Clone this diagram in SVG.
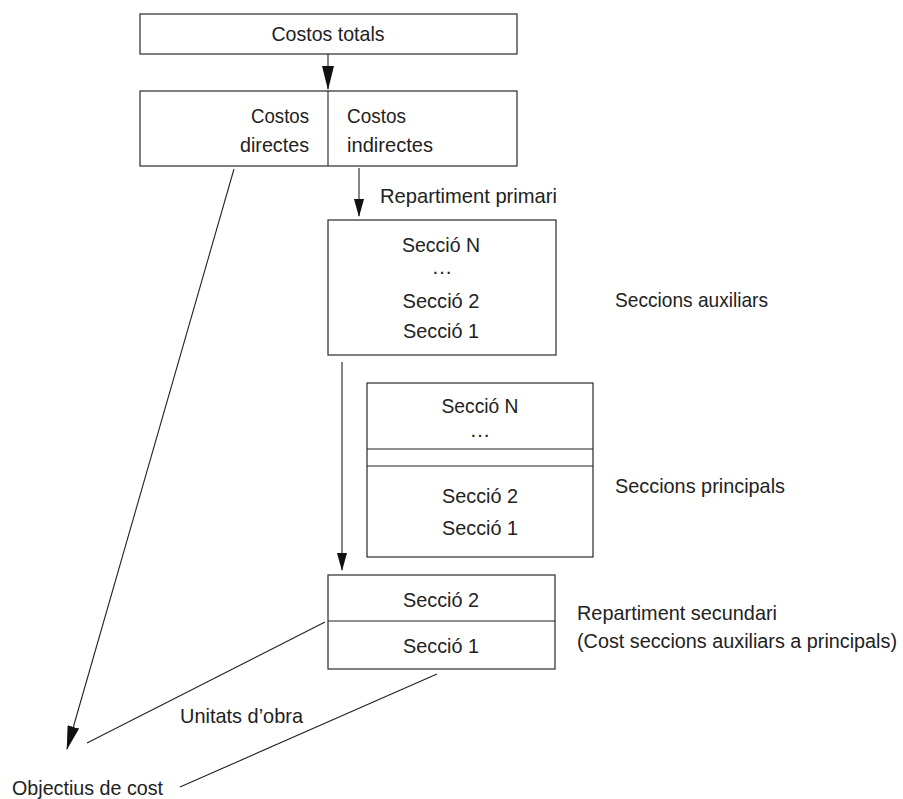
<svg xmlns="http://www.w3.org/2000/svg" width="903" height="799" viewBox="0 0 903 799">
<style>
.box{fill:#fff;stroke:#3a3a3a;stroke-width:1.3}
.ln{stroke:#222;stroke-width:1.1;fill:none}
text{font-family:"Liberation Sans",Arial,sans-serif;font-size:21px;fill:#222}
.c{text-anchor:middle}
.r{text-anchor:end}
</style>
<defs>
<marker id="ah" markerUnits="userSpaceOnUse" markerWidth="24" markerHeight="12" refX="23" refY="6" orient="auto">
<path d="M0,0 L24,6 L0,12 z" fill="#111"/>
</marker>
<marker id="ahs" markerUnits="userSpaceOnUse" markerWidth="18" markerHeight="10" refX="17" refY="5" orient="auto">
<path d="M0,0 L18,5 L0,10 z" fill="#111"/>
</marker>
</defs>
<rect width="903" height="799" fill="#fff"/>
<g id="costos-totals">
<rect class="box" x="140" y="14" width="377" height="40"/>
<text class="c" x="328" y="41" textLength="113" lengthAdjust="spacingAndGlyphs">Costos totals</text>
</g>
<g id="costos-dir-ind">
<rect class="box" x="140" y="91" width="377" height="75"/>
<line class="ln" x1="328" y1="91" x2="328" y2="166"/>
<text class="r" x="309" y="123" textLength="58" lengthAdjust="spacingAndGlyphs">Costos</text>
<text class="r" x="309" y="152" textLength="69" lengthAdjust="spacingAndGlyphs">directes</text>
<text x="347" y="123" textLength="59" lengthAdjust="spacingAndGlyphs">Costos</text>
<text x="347" y="152" textLength="86" lengthAdjust="spacingAndGlyphs">indirectes</text>
</g>
<g id="seccions-auxiliars">
<rect class="box" x="328" y="220" width="228" height="135"/>
<text class="c" x="441" y="252" textLength="78" lengthAdjust="spacingAndGlyphs">Secció N</text>
<text class="c" x="442" y="274">…</text>
<text class="c" x="441" y="308" textLength="77" lengthAdjust="spacingAndGlyphs">Secció 2</text>
<text class="c" x="441" y="338" textLength="76" lengthAdjust="spacingAndGlyphs">Secció 1</text>
</g>
<text x="615" y="307" textLength="153" lengthAdjust="spacingAndGlyphs">Seccions auxiliars</text>
<g id="seccions-principals">
<rect class="box" x="367" y="383" width="226" height="174"/>
<line class="ln" x1="367" y1="449" x2="593" y2="449"/>
<line class="ln" x1="367" y1="466" x2="593" y2="466"/>
<text class="c" x="480" y="413" textLength="77" lengthAdjust="spacingAndGlyphs">Secció N</text>
<text class="c" x="480" y="437">…</text>
<text class="c" x="480" y="503" textLength="76" lengthAdjust="spacingAndGlyphs">Secció 2</text>
<text class="c" x="480" y="535" textLength="76" lengthAdjust="spacingAndGlyphs">Secció 1</text>
</g>
<text x="615" y="493" textLength="170" lengthAdjust="spacingAndGlyphs">Seccions principals</text>
<g id="repartiment-secundari">
<rect class="box" x="328" y="575" width="227" height="94"/>
<line class="ln" x1="328" y1="621" x2="555" y2="621"/>
<text class="c" x="441" y="607" textLength="76" lengthAdjust="spacingAndGlyphs">Secció 2</text>
<text class="c" x="441" y="653" textLength="76" lengthAdjust="spacingAndGlyphs">Secció 1</text>
</g>
<text x="577" y="620" textLength="200" lengthAdjust="spacingAndGlyphs">Repartiment secundari</text>
<text x="577" y="648" style="font-size:19.5px" textLength="320" lengthAdjust="spacingAndGlyphs">(Cost seccions auxiliars a principals)</text>
<g id="objectius">
<text x="12" y="795" textLength="151" lengthAdjust="spacingAndGlyphs">Objectius de cost</text>
</g>
<g id="connectors">
<line class="ln" x1="328" y1="54" x2="328" y2="89" marker-end="url(#ah)"/>
<line class="ln" x1="359" y1="168" x2="359" y2="216" marker-end="url(#ahs)"/>
<text x="380" y="203" textLength="177" lengthAdjust="spacingAndGlyphs">Repartiment primari</text>
<line class="ln" x1="342" y1="362" x2="342" y2="570" marker-end="url(#ahs)"/>
<line class="ln" x1="234" y1="169" x2="67" y2="749" marker-end="url(#ah)"/>
<line class="ln" x1="325" y1="622" x2="87" y2="743"/>
<line class="ln" x1="437" y1="674" x2="180" y2="787"/>
<text x="180" y="723" textLength="123" lengthAdjust="spacingAndGlyphs">Unitats d’obra</text>
</g>
</svg>
